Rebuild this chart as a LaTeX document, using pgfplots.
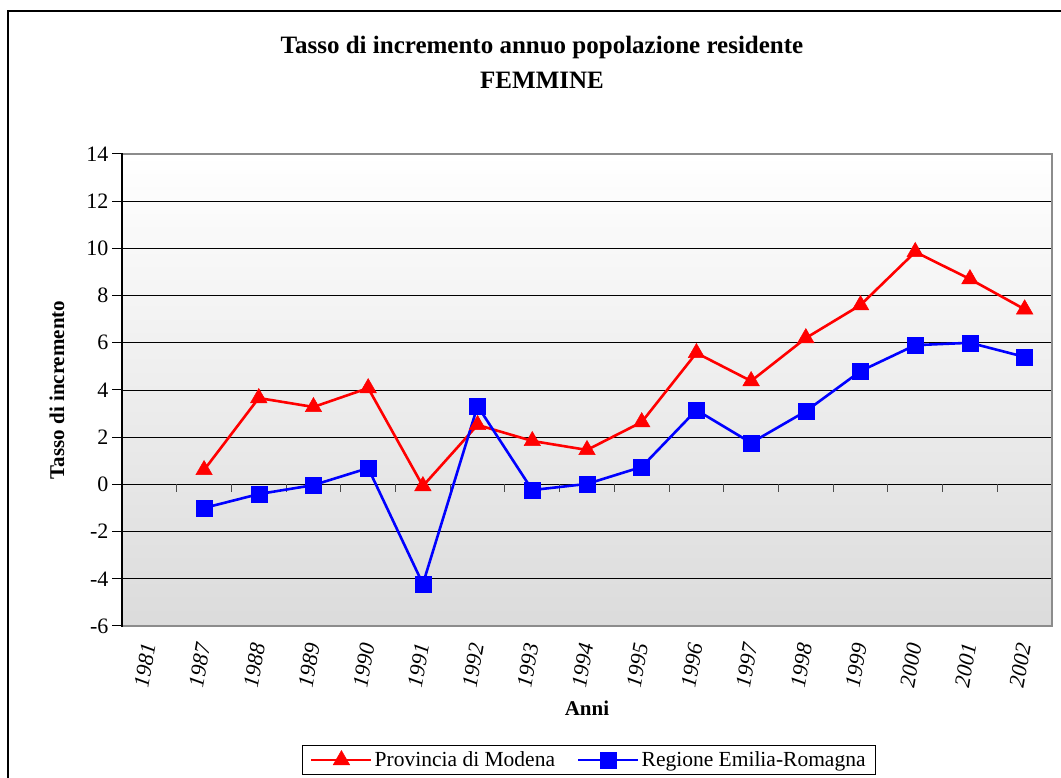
\documentclass[border=0pt]{standalone}
\usepackage{pgfplots}
\pgfplotsset{compat=1.18}
\usepackage{fontspec}
\setmainfont{Liberation Serif}
\begin{document}
\begin{tikzpicture}
\useasboundingbox (0pt,0pt) rectangle (1061pt,778pt);
\draw[line width=1.5pt] (8pt,-20pt) rectangle (1080pt,767pt);
\node[font=\bfseries\fontsize{25}{29}\selectfont] at (542pt,730pt) {Tasso di incremento annuo popolazione residente};
\node[font=\bfseries\fontsize{25}{29}\selectfont] at (542pt,698pt) {FEMMINE};
\begin{axis}[
  at={(122pt,152pt)}, anchor=south west,
  width=930pt, height=472pt, scale only axis, clip=false,
  xmin=-0.5, xmax=16.5, ymin=-6, ymax=14,
  axis background/.style={top color=white, bottom color=black!14},
  axis line style={draw=none},
  xtick={0,...,16},
  xticklabels={1981,1987,1988,1989,1990,1991,1992,1993,1994,1995,1996,1997,1998,1999,2000,2001,2002},
  x tick label style={rotate=80, anchor=east, font=\itshape\fontsize{22}{26}\selectfont},
  xticklabel shift=4pt,
  xtick style={draw=none},
  ytick={-6,-4,...,14},
  yticklabels={-6,-4,-2,0,2,4,6,8,10,12,14},
  y tick label style={font=\fontsize{22}{26}\selectfont},
  ytick pos=left, tick align=outside, major tick length=10pt,
  ytick style={black, line width=1pt},
  ymajorgrids, grid style={black, line width=0.8pt},
  xlabel={Anni}, xlabel style={font=\bfseries\fontsize{21}{25}\selectfont, at={(axis description cs:0.5,-0.175)}, anchor=center},
  ylabel={Tasso di incremento}, ylabel style={font=\bfseries\fontsize{21}{25}\selectfont, at={(axis description cs:-0.070,0.5)}, anchor=center},
  legend columns=2,
  legend style={at={(axis description cs:0.502,-0.284)}, anchor=center, draw=black, line width=0.8pt, fill=white,
    font=\fontsize{21.5}{25}\selectfont, inner xsep=8pt, inner ysep=4pt,
    /tikz/every even column/.append style={column sep=20pt}},
  legend image code/.code={\draw[#1, mark repeat=2, mark phase=2] plot coordinates {(0pt,0pt) (30pt,0pt) (60pt,0pt)};},
]
\pgfplotsinvokeforeach{0.5,1.5,2.5,3.5,4.5,5.5,6.5,7.5,8.5,9.5,10.5,11.5,12.5,13.5,14.5,15.5}{
  \draw[black!70, line width=1pt] (axis cs:#1,0) -- ++(0pt,-8pt);
}
\draw[black!45, line width=2.5pt] (rel axis cs:0,0) -- (rel axis cs:1,0) -- (rel axis cs:1,1) -- (rel axis cs:0,1);
\draw[black, line width=2.2pt] (rel axis cs:0,-0.002) -- (rel axis cs:0,1.002);
\addplot[red, line width=2.6pt, mark=triangle*, mark size=9.5pt, mark options={solid, line width=0.5pt}] coordinates {
 (1,0.61) (2,3.66) (3,3.28) (4,4.08) (5,-0.07) (6,2.52) (7,1.84) (8,1.46) (9,2.64) (10,5.57) (11,4.38) (12,6.2) (13,7.6) (14,9.85) (15,8.7) (16,7.42)};
\addlegendentry{Provincia di Modena}
\addplot[blue, line width=2.6pt, mark=square*, mark size=8pt, mark options={solid, line width=0.5pt}] coordinates {
 (1,-1.0) (2,-0.41) (3,-0.03) (4,0.69) (5,-4.22) (6,3.32) (7,-0.24) (8,0.02) (9,0.74) (10,3.15) (11,1.76) (12,3.1) (13,4.8) (14,5.9) (15,6.0) (16,5.4)};
\addlegendentry{Regione Emilia-Romagna}
\end{axis}
\end{tikzpicture}
\end{document}
